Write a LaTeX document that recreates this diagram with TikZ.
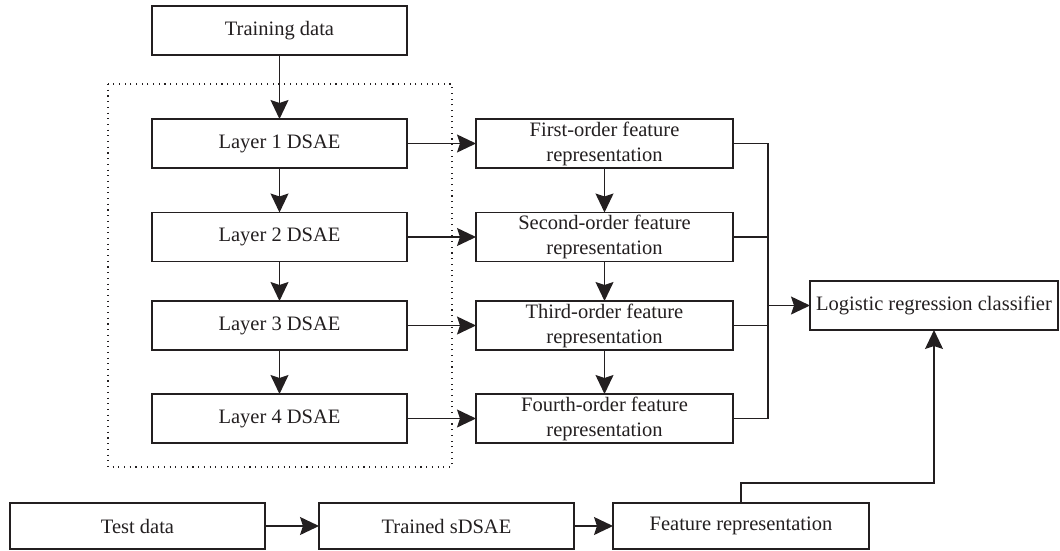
\documentclass[tikz,border=0pt]{standalone}
\usepackage{fontspec}
\setmainfont{Liberation Serif}
\usetikzlibrary{arrows.meta,calc}
\definecolor{ink}{HTML}{231F20}
\begin{document}
\begin{tikzpicture}[x=1pt,y=-1pt,
  box/.style={draw=ink,line width=1.3pt,inner sep=0pt,outer sep=0pt,align=center,
    font=\fontsize{20.5}{25}\selectfont,text=ink},
  wide/.style={box,minimum width=255pt,minimum height=49pt},
  feat/.style={box,minimum width=257pt,minimum height=49pt},
  conn/.style={draw=ink,line width=1.3pt},
  arr/.style={conn,-{Stealth[length=19pt,width=18pt,inset=3pt]}},
  dotbox/.style={draw=ink,line width=1.1pt,dash pattern=on 1.1pt off 4.6pt}
]
\useasboundingbox (0,0) rectangle (1060,550);
\draw[dotbox] (108,84) rectangle (452,467);
\node[wide] (train) at (279.5,30.5) {Training data};
\node[wide] (L1) at (279.5,143.5) {Layer 1 DSAE};
\node[wide] (L2) at (279.5,237) {Layer 2 DSAE};
\node[wide] (L3) at (279.5,325.5) {Layer 3 DSAE};
\node[wide] (L4) at (279.5,418.5) {Layer 4 DSAE};
\node[feat] (F1) at (604.5,143.5) {First-order feature\\representation};
\node[feat] (F2) at (604.5,237) {Second-order feature\\representation};
\node[feat] (F3) at (604.5,325.5) {Third-order feature\\representation};
\node[feat] (F4) at (604.5,418.5) {Fourth-order feature\\representation};
\node[box,minimum width=248pt,minimum height=49pt] (LR) at (934,305.5) {Logistic regression classifier};
\node[wide,minimum height=46pt] (test) at (137.5,526) {Test data};
\node[wide,minimum height=46pt] (sdsae) at (446.5,526) {Trained sDSAE};
\node[wide,minimum height=46pt,minimum width=256pt] (FR) at (741,526) {Feature representation};
\coordinate (tt) at (768,143.5);
\coordinate (tb) at (768,418.5);
\coordinate (k) at (934,483);
\draw[arr] (train) -- (L1);
\draw[arr] (L1) -- (L2);
\draw[arr] (L2) -- (L3);
\draw[arr] (L3) -- (L4);
\draw[arr] (F1) -- (F2);
\draw[arr] (F2) -- (F3);
\draw[arr] (F3) -- (F4);
\draw[arr] (L1) -- (F1);
\draw[arr] (L2) -- (F2);
\draw[arr] (L3) -- (F3);
\draw[arr] (L4) -- (F4);
\draw[conn] (F1.east) -- (tt) -- (tb) -- (F4.east);
\draw[conn] (F2.east) -- (F2.east -| tt);
\draw[conn] (F3.east) -- (F3.east -| tt);
\draw[arr] (LR.west -| tt) -- (LR.west);
\draw[arr] (test) -- (sdsae);
\draw[arr] (sdsae) -- (FR);
\draw[arr] (FR.north) |- (k) -- (LR.south);
\end{tikzpicture}
\end{document}
